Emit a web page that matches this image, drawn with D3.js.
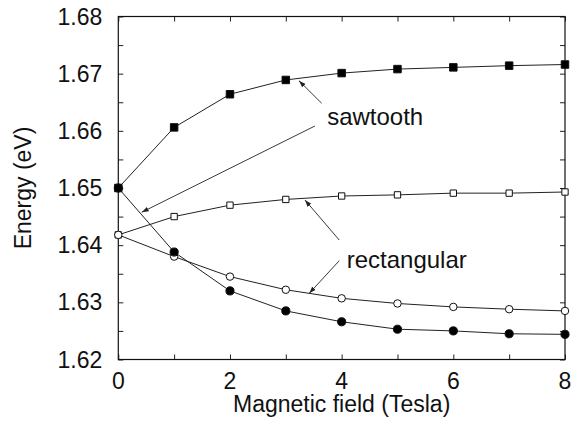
<!DOCTYPE html>
<html>
<head>
<meta charset="utf-8">
<script src="https://cdn.jsdelivr.net/npm/d3@7"></script>
<style>
  body { margin: 0; background: #fff; }
  text { font-family: "Liberation Sans", Arial, sans-serif; fill: #111; }
</style>
</head>
<body>
<div id="chart"></div>
<script>
// data
const field = [0, 1, 2, 3, 4, 5, 6, 7, 8];
const sawtoothUpper = [1.6500, 1.6606, 1.6664, 1.6689, 1.6701, 1.6708, 1.6711, 1.6714, 1.6716];
const sawtoothLower = [1.6500, 1.6388, 1.6320, 1.6285, 1.6266, 1.6253, 1.6250, 1.6245, 1.6244];
const rectUpper = [1.6418, 1.6450, 1.6470, 1.6480, 1.6486, 1.6488, 1.6491, 1.6491, 1.6493];
const rectLower = [1.6418, 1.6380, 1.6345, 1.6322, 1.6307, 1.6298, 1.6292, 1.6288, 1.6285];
const xTickLabels = [0, 2, 4, 6, 8];
const yTickLabels = [1.62, 1.63, 1.64, 1.65, 1.66, 1.67, 1.68];

// annotation labels and arrows, in data coordinates
const labels = [
  {text: "sawtooth", x: 3.74, y: 1.6610},
  {text: "rectangular", x: 4.09, y: 1.6360}
];
const arrows = [
  {x1: 3.642, y1: 1.66482, x2: 3.235, y2: 1.66877},
  {x1: 3.522, y1: 1.66085, x2: 0.419, y2: 1.64575},
  {x1: 3.957, y1: 1.64090, x2: 3.343, y2: 1.64790},
  {x1: 3.957, y1: 1.63728, x2: 3.420, y2: 1.63158}
];

const width = 571, height = 429;
const margin = {top: 16.5, right: 6, bottom: 69.5, left: 118.3};

const svg = d3.select("#chart").append("svg")
    .attr("width", width)
    .attr("height", height);

const x = d3.scaleLinear().domain([0, 8]).range([margin.left, width - margin.right]);
const y = d3.scaleLinear().domain([1.62, 1.68]).range([height - margin.bottom, margin.top]);

svg.append("defs").append("marker")
    .attr("id", "head")
    .attr("viewBox", "0 0 10 10")
    .attr("refX", 10).attr("refY", 5)
    .attr("markerWidth", 7).attr("markerHeight", 7)
    .attr("markerUnits", "userSpaceOnUse")
    .attr("orient", "auto")
  .append("path")
    .attr("d", "M0,1.5 L10,5 L0,8.5 Z")
    .attr("fill", "#222");

// ticks pointing inward on all four sides
const tickLen = 5;
const xTicks = d3.range(0, 9, 1);
const yTicks = d3.range(1.62, 1.6801, 0.005);

svg.append("g")
    .attr("transform", `translate(0,${y(1.62)})`)
    .call(d3.axisBottom(x).tickValues(xTicks).tickSize(-tickLen).tickFormat(""))
    .call(g => g.select(".domain").remove());
svg.append("g")
    .attr("transform", `translate(0,${y(1.68)})`)
    .call(d3.axisTop(x).tickValues(xTicks).tickSize(-tickLen).tickFormat(""))
    .call(g => g.select(".domain").remove());
svg.append("g")
    .attr("transform", `translate(${x(0)},0)`)
    .call(d3.axisLeft(y).tickValues(yTicks).tickSize(-tickLen).tickFormat(""))
    .call(g => g.select(".domain").remove());
svg.append("g")
    .attr("transform", `translate(${x(8)},0)`)
    .call(d3.axisRight(y).tickValues(yTicks).tickSize(-tickLen).tickFormat(""))
    .call(g => g.select(".domain").remove());

svg.selectAll(".tick line").attr("stroke", "#222");

// frame
svg.append("rect")
    .attr("x", x(0)).attr("y", y(1.68))
    .attr("width", x(8) - x(0)).attr("height", y(1.62) - y(1.68))
    .attr("fill", "none").attr("stroke", "#111").attr("stroke-width", 1.2);

// tick labels
svg.selectAll(".xlab").data(xTickLabels).enter().append("text")
    .attr("class", "xlab")
    .attr("x", d => x(d)).attr("y", y(1.62) + 29)
    .attr("text-anchor", "middle")
    .style("font-size", "23px")
    .text(d => d);

svg.selectAll(".ylab").data(yTickLabels).enter().append("text")
    .attr("class", "ylab")
    .attr("x", x(0) - 16).attr("y", d => y(d) + 8)
    .attr("text-anchor", "end")
    .style("font-size", "23px")
    .text(d => d.toFixed(2));

// axis titles
svg.append("text")
    .attr("x", (x(0) + x(8)) / 2).attr("y", 412)
    .attr("text-anchor", "middle")
    .style("font-size", "23px")
    .text("Magnetic field (Tesla)");

svg.append("text")
    .attr("transform", `translate(31,${(y(1.62) + y(1.68)) / 2}) rotate(-90)`)
    .attr("text-anchor", "middle")
    .style("font-size", "23px")
    .text("Energy (eV)");

// series
const series = [
  {values: sawtoothUpper, shape: "square", filled: true},
  {values: rectUpper, shape: "square", filled: false},
  {values: rectLower, shape: "circle", filled: false},
  {values: sawtoothLower, shape: "circle", filled: true}
];

const line = d3.line()
    .x(d => x(d[0]))
    .y(d => y(d[1]));

series.forEach(s => {
  const pts = field.map((f, i) => [f, s.values[i]]);
  svg.append("path")
      .datum(pts)
      .attr("d", line)
      .attr("fill", "none")
      .attr("stroke", "#222")
      .attr("stroke-width", 1);

  const sym = d3.symbol()
      .type(s.shape === "square" ? d3.symbolSquare : d3.symbolCircle)
      .size(s.shape === "square" ? (s.filled ? 56 : 40) : (s.filled ? 52 : 44));

  svg.selectAll(null).data(pts).enter().append("path")
      .attr("transform", d => `translate(${x(d[0])},${y(d[1])})`)
      .attr("d", sym)
      .attr("fill", s.filled ? "#000" : "#fff")
      .attr("stroke", "#111")
      .attr("stroke-width", 1);
});

// annotations
svg.selectAll(".arrow").data(arrows).enter().append("line")
    .attr("class", "arrow")
    .attr("x1", d => x(d.x1)).attr("y1", d => y(d.y1))
    .attr("x2", d => x(d.x2)).attr("y2", d => y(d.y2))
    .attr("stroke", "#222")
    .attr("stroke-width", 0.9)
    .attr("marker-end", "url(#head)");

svg.selectAll(".ann").data(labels).enter().append("text")
    .attr("class", "ann")
    .attr("x", d => x(d.x)).attr("y", d => y(d.y))
    .style("font-size", "24px")
    .text(d => d.text);
</script>
</body>
</html>
